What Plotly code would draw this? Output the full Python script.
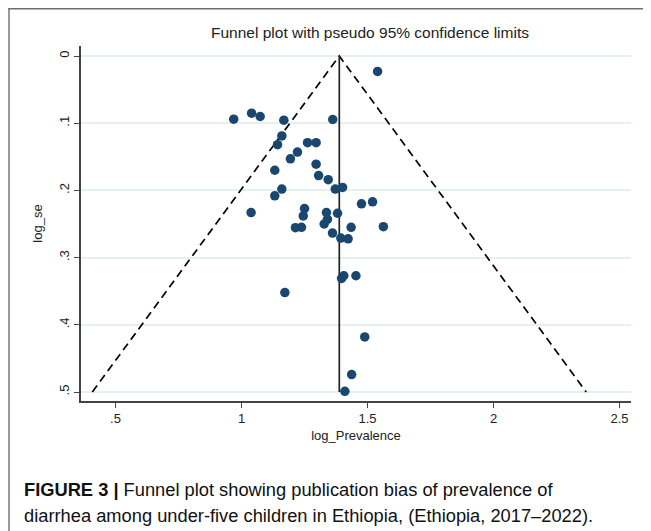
import plotly.graph_objects as go

# Study estimates (log prevalence, standard error)
log_prevalence = [1.540, 0.969, 1.040, 1.074, 1.168, 1.362, 1.160, 1.143, 1.262, 1.296,
                  1.222, 1.194, 1.296, 1.132, 1.306, 1.344, 1.372, 1.401, 1.160, 1.132,
                  1.476, 1.520, 1.038, 1.250, 1.245, 1.337, 1.381, 1.341, 1.328, 1.214,
                  1.238, 1.435, 1.563, 1.361, 1.394, 1.423, 1.397, 1.406, 1.454, 1.172,
                  1.489, 1.437, 1.410]
log_se = [0.023, 0.094, 0.085, 0.090, 0.0955, 0.0945, 0.119, 0.132, 0.129, 0.129,
          0.143, 0.153, 0.161, 0.170, 0.178, 0.184, 0.198, 0.1956, 0.198, 0.208,
          0.220, 0.217, 0.233, 0.227, 0.238, 0.233, 0.234, 0.243, 0.250, 0.2555,
          0.255, 0.255, 0.254, 0.2635, 0.271, 0.272, 0.331, 0.327, 0.327, 0.352,
          0.418, 0.474, 0.499]

pooled = 1.388
funnel_se = [0.5, 0.0, 0.5]
x_ticks = [0.5, 1, 1.5, 2, 2.5]
x_tick_labels = [".5", "1", "1.5", "2", "2.5"]
y_ticks = [0, 0.1, 0.2, 0.3, 0.4, 0.5]
y_tick_labels = ["0", ".1", ".2", ".3", ".4", ".5"]

title_text = "Funnel plot with pseudo 95% confidence limits"
caption_bold = "FIGURE 3 |"
caption_1 = " Funnel plot showing publication bias of prevalence of"
caption_2 = "diarrhea among under-five children in Ethiopia, (Ethiopia, 2017\u20132022)."

# page has an 8px body margin; the figure is placed at (8, 8) in the window
OFF = 8
W, H = 651 - OFF, 531 - OFF
L, R, T, B = 73, 20, 38, 130
pw, ph = W - L - R, H - T - B

def px(x):  # window pixel -> paper
    return (x - OFF - L) / pw

def py(y):
    return (H - B - (y - OFF)) / ph

fig = go.Figure()

funnel_x = [pooled - 1.96 * funnel_se[0], pooled, pooled + 1.96 * funnel_se[2]]
fig.add_trace(go.Scatter(x=funnel_x, y=funnel_se, mode="lines",
                         line=dict(color="black", width=1.7, dash="8px,5px"),
                         hoverinfo="skip", showlegend=False))
fig.add_trace(go.Scatter(x=[pooled, pooled], y=[0, 0.5], mode="lines",
                         line=dict(color="#222222", width=1.7),
                         hoverinfo="skip", showlegend=False))
fig.add_trace(go.Scatter(x=log_prevalence, y=log_se, mode="markers",
                         marker=dict(color="#1a476f", size=9.5),
                         showlegend=False))

font = "Liberation Sans, Arial, sans-serif"
fig.update_layout(
    width=W, height=H,
    margin=dict(l=L, r=R, t=T, b=B),
    paper_bgcolor="white", plot_bgcolor="white",
    font=dict(family=font, color="#222222"),
    xaxis=dict(range=[0.363, 2.5456], tickvals=x_ticks, ticktext=x_tick_labels,
               showgrid=False, zeroline=False, showline=True, linecolor="#444444",
               linewidth=1.5, ticks="outside", ticklen=5, tickcolor="#444444",
               tickfont=dict(size=13, color="#222222"),
               title=dict(text="log_Prevalence", font=dict(size=13), standoff=6)),
    yaxis=dict(range=[0.5134, -0.0149], tickvals=y_ticks, ticktext=y_tick_labels,
               showgrid=True, gridcolor="#e6f0f1", gridwidth=1.5, zeroline=False,
               showline=True, linecolor="#444444", linewidth=1.5,
               ticks="outside", ticklen=5, tickcolor="#444444", tickangle=-90,
               tickfont=dict(size=13, color="#222222"),
               title=dict(text="log_se", font=dict(size=13), standoff=11)),
)

annotations = [
    dict(text=title_text, x=px(370), y=py(32), xref="paper", yref="paper",
         showarrow=False, xanchor="center", yanchor="middle",
         font=dict(size=15.5, color="#222222")),
    dict(text="<b>" + caption_bold + "</b>" + caption_1, x=px(22), y=py(489),
         xref="paper", yref="paper", showarrow=False, xanchor="left", yanchor="middle",
         font=dict(size=18.3, color="#111111")),
    dict(text=caption_2, x=px(22), y=py(515),
         xref="paper", yref="paper", showarrow=False, xanchor="left", yanchor="middle",
         font=dict(size=18.3, color="#111111")),
]
fig.update_layout(annotations=annotations)

# outer frame (top and left edges)
fig.add_shape(type="line", xref="paper", yref="paper", x0=px(8), x1=px(660),
              y0=py(8.5), y1=py(8.5), line=dict(color="#6f6f6f", width=2))
fig.add_shape(type="line", xref="paper", yref="paper", x0=px(9), x1=px(9),
              y0=py(8), y1=py(540), line=dict(color="#777777", width=1.5))

fig.write_html("out.html")
